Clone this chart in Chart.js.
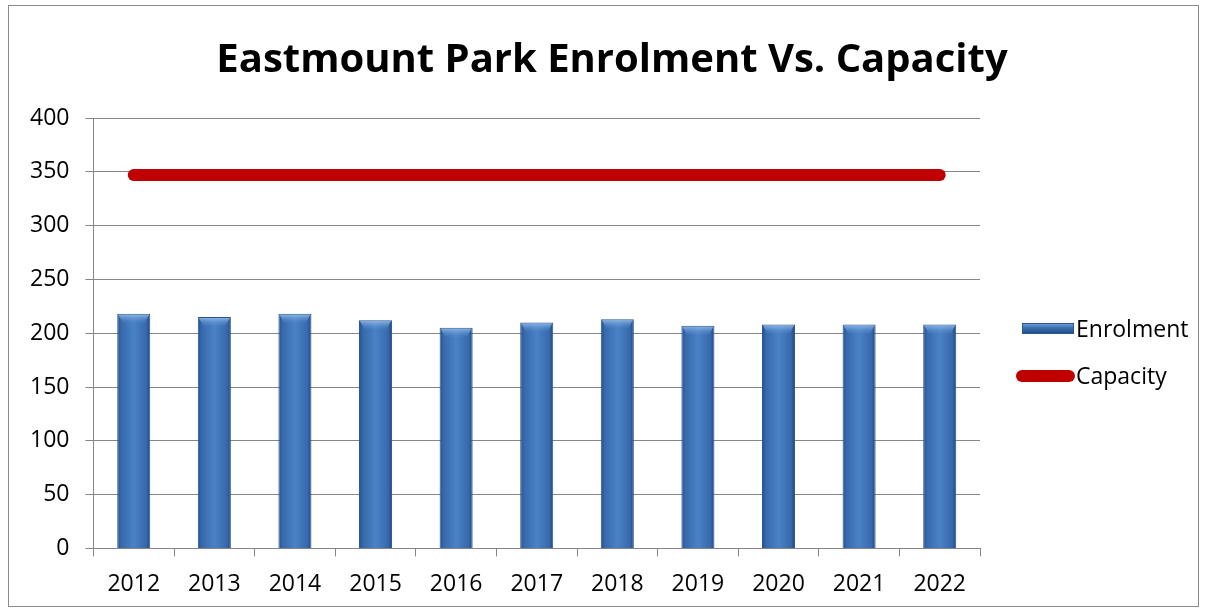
<!DOCTYPE html>
<html lang="en">
<head>
  <meta charset="UTF-8">
  <title>Eastmount Park Enrolment Vs. Capacity</title>
  <script src="https://cdn.jsdelivr.net/npm/chart.js"></script>
  <style>
    html, body {
      margin: 0;
      padding: 0;
      background: #ffffff;
    }
    #wrap {
      width: 1209px;
      height: 613px;
      position: relative;
    }
  </style>
</head>
<body>
  <div id="wrap"><canvas id="enrolChart"></canvas></div>

  <script>
    const years = ['2012', '2013', '2014', '2015', '2016', '2017', '2018', '2019', '2020', '2021', '2022'];
    const enrolment = [218, 215, 218, 212, 205, 210, 213, 207, 208, 208, 208];
    const capacity = [347, 347, 347, 347, 347, 347, 347, 347, 347, 347, 347];
    const yTicks = [0, 50, 100, 150, 200, 250, 300, 350, 400];

    const fontFamily = '"Open Sans", Calibri, sans-serif';
    const titleText = 'Eastmount Park Enrolment Vs. Capacity';

    // bevelled look: every bar gets its own left-to-right gradient
    const barShading = {
      id: 'barShading',
      beforeDatasetsDraw(chart) {
        const c = chart.ctx;
        chart.getSortedVisibleDatasetMetas().forEach(meta => {
          if (meta.type !== 'bar') return;
          meta.data.forEach(el => {
            const x0 = el.x - el.width / 2, x1 = el.x + el.width / 2;
            const g = c.createLinearGradient(x0, 0, x1, 0);
            g.addColorStop(0, '#22508e');
            g.addColorStop(0.12, '#3769ab');
            g.addColorStop(0.5, '#4a82c6');
            g.addColorStop(0.88, '#3769ab');
            g.addColorStop(1, '#1e4781');
            el.options.backgroundColor = g;
          });
        });
      },
      afterDatasetsDraw(chart) {
        // light top cap on each bar
        const c = chart.ctx;
        chart.getSortedVisibleDatasetMetas().forEach(meta => {
          if (meta.type !== 'bar') return;
          meta.data.forEach(el => {
            const x0 = el.x - el.width / 2;
            const g = c.createLinearGradient(0, el.y, 0, el.y + 10);
            g.addColorStop(0, 'rgba(160,200,240,0.85)');
            g.addColorStop(1, 'rgba(90,140,210,0)');
            c.save();
            c.fillStyle = g;
            c.beginPath();
            c.moveTo(x0 + 1, el.y + 1);
            c.lineTo(x0 + el.width - 1, el.y + 1);
            c.lineTo(x0 + el.width - 6, el.y + 10);
            c.lineTo(x0 + 6, el.y + 10);
            c.closePath();
            c.fill();
            c.restore();
          });
        });
      }
    };

    const frameTitleLegend = {
      id: 'frameTitleLegend',
      afterDraw(chart) {
        const c = chart.ctx;
        c.save();
        c.strokeStyle = '#8c8c8c';
        c.lineWidth = 1;
        c.strokeRect(8.5, 5.5, 1190, 601);

        // title
        c.fillStyle = '#000000';
        c.font = 'bold 40px ' + fontFamily;
        c.textAlign = 'center';
        c.textBaseline = 'alphabetic';
        c.fillText(titleText, 612, 72);

        // legend
        const lx = 1022;
        const g = c.createLinearGradient(0, 323, 0, 334);
        g.addColorStop(0, '#7aa8de');
        g.addColorStop(0.4, '#3f74b6');
        g.addColorStop(1, '#1f4680');
        c.fillStyle = g;
        c.fillRect(lx, 323, 52, 11);
        c.strokeStyle = '#2a5590';
        c.strokeRect(lx + 0.5, 323.5, 51, 10);

        c.strokeStyle = '#c00000';
        c.lineWidth = 12;
        c.lineCap = 'round';
        c.beginPath();
        c.moveTo(1022, 376);
        c.lineTo(1069, 376);
        c.stroke();

        c.fillStyle = '#000000';
        c.font = '23px ' + fontFamily;
        c.textBaseline = 'middle';
        c.textAlign = 'left';
        c.fillText('Enrolment', 1076, 330);
        c.fillText('Capacity', 1076, 377);
        c.restore();
      }
    };

    const ctx = document.getElementById('enrolChart').getContext('2d');
    new Chart(ctx, {
      data: {
        labels: years,
        datasets: [
          {
            type: 'line',
            label: 'Capacity',
            data: capacity,
            borderColor: '#c00000',
            backgroundColor: '#c00000',
            borderWidth: 12,
            borderCapStyle: 'round',
            pointRadius: 0,
            order: 0
          },
          {
            type: 'bar',
            label: 'Enrolment',
            data: enrolment,
            // scriptable so each bar keeps its own options object
            backgroundColor: () => '#3a6fb0',
            borderColor: '#2a5590',
            borderWidth: 1,
            barPercentage: 0.41,
            categoryPercentage: 1,
            order: 1
          }
        ]
      },
      plugins: [barShading, frameTitleLegend],
      options: {
        responsive: true,
        maintainAspectRatio: false,
        animation: false,
        layout: {
          padding: { left: 14, right: 229, top: 118, bottom: 1 }
        },
        plugins: {
          legend: { display: false },
          tooltip: { enabled: false },
          title: { display: false }
        },
        scales: {
          x: {
            grid: {
              offset: true,
              display: true,
              drawOnChartArea: false,
              color: '#868686',
              tickLength: 8
            },
            border: { color: '#868686' },
            ticks: {
              color: '#000000',
              font: { family: fontFamily, size: 23 },
              padding: 14
            }
          },
          y: {
            min: 0,
            max: 400,
            afterBuildTicks(axis) {
              axis.ticks = yTicks.map(v => ({ value: v }));
            },
            grid: {
              color: '#868686',
              tickLength: 8
            },
            border: { color: '#868686' },
            ticks: {
              color: '#000000',
              font: { family: fontFamily, size: 23 },
              padding: 16
            }
          }
        }
      }
    });
  </script>
</body>
</html>
